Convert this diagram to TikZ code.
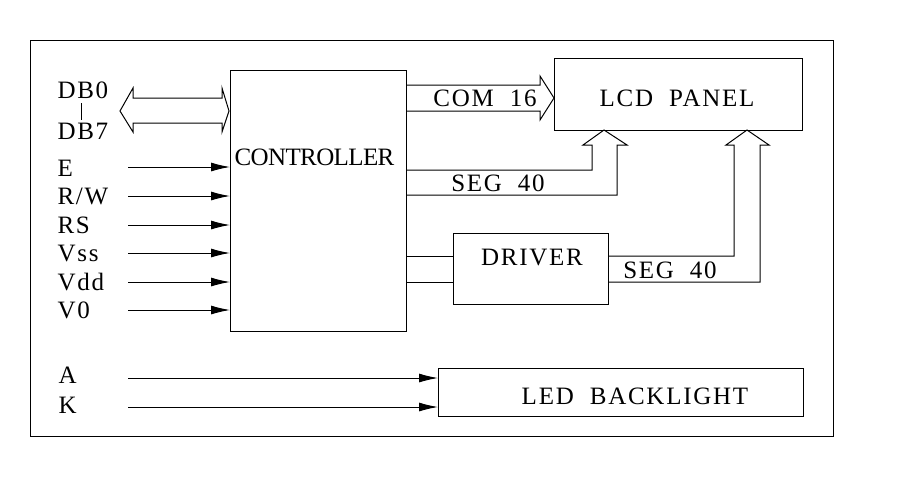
\documentclass[tikz,border=0pt]{standalone}
\usepackage{fontspec}
\setmainfont{Liberation Serif}
\newfontfamily\lblfont[LetterSpace=7]{Liberation Serif}
\newfontfamily\ctrlfont[LetterSpace=-2.5]{Liberation Serif}
\usetikzlibrary{arrows.meta}
\begin{document}
\begin{tikzpicture}[x=1pt,y=-1pt, line width=1pt,
 box/.style={draw, inner sep=0pt, outer sep=0pt},
 lbl/.style={font=\lblfont\fontsize{25}{25}\selectfont, inner sep=0pt},
 sig/.style={-{Latex[length=19pt,width=9pt]}}]
\useasboundingbox (0,0) rectangle (904,480);
\draw (30,40) rectangle (833,436);
% blocks
\node[box, minimum width=176, minimum height=261] (ctrl) at (318,200.5) {};
\node[box, minimum width=248, minimum height=72] (lcd) at (678,94) {};
\node[box, minimum width=155, minimum height=71] (drv) at (530.5,268.5) {};
\node[box, minimum width=365, minimum height=48] (led) at (620.5,392) {};
\node[lbl, font=\ctrlfont\fontsize{25}{25}\selectfont] (tctrl) at (314.5,157) {CONTROLLER};
\node[lbl] (tlcd) at (677,98) {LCD\ \ PANEL};
\node[lbl] (tdrv) at (532,257) {DRIVER};
\node[lbl] (tled) at (635,396) {LED\ \ BACKLIGHT};
% left labels
\node[lbl, anchor=west] (db0) at (57,90) {DB0};
\node[lbl, anchor=west] (db7) at (57,131) {DB7};
\draw (81,103) -- (81,120);
\node[lbl, anchor=west] (le) at (57,168) {E};
\node[lbl, anchor=west] (lrw) at (57,196) {R/W};
\node[lbl, anchor=west] (lrs) at (57,225) {RS};
\node[lbl, anchor=west] (lvss) at (57,253) {Vss};
\node[lbl, anchor=west] (lvdd) at (57,282) {Vdd};
\node[lbl, anchor=west] (lvo) at (57,310) {V0};
\node[lbl, anchor=west] (la) at (58,375) {A};
\node[lbl, anchor=west] (lk) at (58,405) {K};
% input arrows
\foreach \y in {167,196,225,253,282,310}{
  \coordinate (s) at (128,\y);
  \draw[sig] (s) -- (s -| ctrl.west);
}
\foreach \y in {378,407}{
  \coordinate (s) at (128,\y);
  \draw[sig] (s) -- (s -| led.west);
}
% data bus hollow double arrow
\draw (120,111) -- (133,88) -- (133,98) -- (222,98) -- (222,88) -- (229,111)
      -- (222,132) -- (222,123) -- (133,123) -- (133,132) -- cycle;
% COM 16
\draw (406,85) -- (540,85) -- (540,76) -- (554,98) -- (540,120) -- (540,111) -- (406,111);
\node[lbl] (tcom) at (485,98) {COM\ \ 16};
% SEG 40 from controller
\draw (406,170) -- (592,170) -- (592,145) -- (583,145) -- (604,130) -- (627,145)
      -- (617,145) -- (617,195) -- (406,195);
\node[lbl] (tseg1) at (498,183) {SEG\ \ 40};
% controller to driver
\draw (406,256) -- (drv.west |- 0,256);
\draw (406,282) -- (drv.west |- 0,282);
% SEG 40 from driver
\draw (608,256) -- (734,256) -- (734,145) -- (726,145) -- (747,130) -- (769,145)
      -- (760,145) -- (760,282) -- (608,282);
\node[lbl] (tseg2) at (670,270) {SEG\ \ 40};
\end{tikzpicture}
\end{document}
